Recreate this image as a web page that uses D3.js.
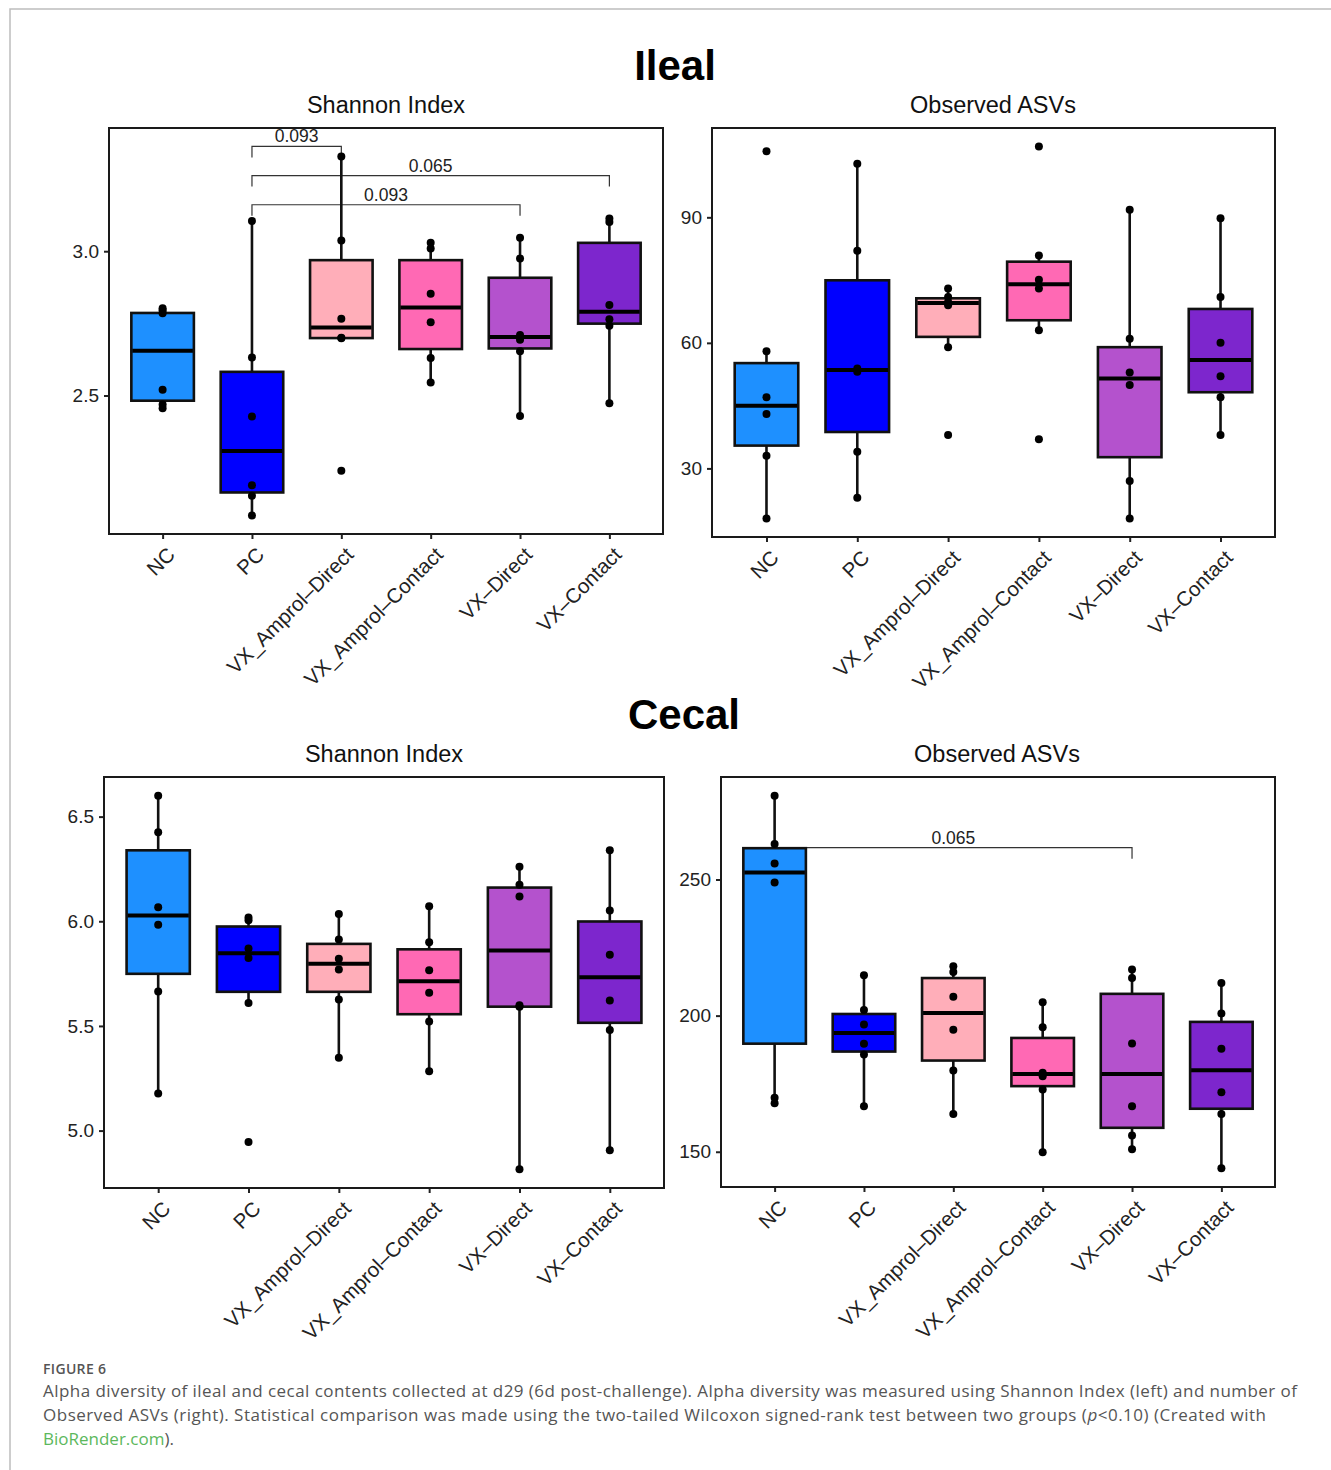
<!DOCTYPE html>
<html>
<head>
<meta charset="utf-8">
<script src="https://cdn.jsdelivr.net/npm/d3@7"></script>
<style>
  body { margin: 0; background: #fff; }
  svg { display: block; }
</style>
</head>
<body>
<div id="chart"></div>
<script>
// groups & colours
const groups = ["NC", "PC", "VX_Amprol\u2013Direct", "VX_Amprol\u2013Contact", "VX\u2013Direct", "VX\u2013Contact"];
const groupColors = ["#1E90FF", "#0000FF", "#FFAEB9", "#FF69B4", "#B452CD", "#7D26CD"];

// box stats per group: [lower whisker, q1, median, q3, upper whisker]
const ilealShannonStats = [
  [2.455, 2.482, 2.655, 2.786, 2.800],
  [2.084, 2.164, 2.308, 2.582, 3.105],
  [2.699, 2.699, 2.736, 2.969, 3.328],
  [2.545, 2.661, 2.805, 2.969, 3.029],
  [2.429, 2.663, 2.703, 2.908, 3.047],
  [2.473, 2.749, 2.790, 3.029, 3.113]
];
const ilealShannonPoints = [
  [2.802, 2.795, 2.785, 2.520, 2.469, 2.456],
  [3.105, 2.632, 2.427, 2.189, 2.153, 2.084],
  [3.328, 3.037, 2.766, 2.700, 2.698, 2.239],
  [3.029, 3.009, 2.853, 2.754, 2.630, 2.545],
  [3.047, 2.975, 2.710, 2.693, 2.653, 2.429],
  [3.113, 3.101, 2.814, 2.764, 2.742, 2.473]
];
const ilealShannonTicks = [2.5, 3.0];
const ilealShannonBrackets = [
  ["PC", "VX_Amprol\u2013Direct", 3.363, "0.093"],
  ["PC", "VX\u2013Contact", 3.262, "0.065"],
  ["PC", "VX\u2013Direct", 3.161, "0.093"]
];

const ilealAsvStats = [
  [18.05, 35.45, 44.98, 55.16, 58.0],
  [22.98, 38.7, 53.5, 74.95, 102.8],
  [58.97, 61.43, 69.54, 70.65, 72.97],
  [63.0, 65.4, 74.0, 79.4, 80.9],
  [18.05, 32.68, 51.5, 58.97, 91.8],
  [38.0, 48.2, 55.9, 68.1, 89.8]
];
const ilealAsvPoints = [
  [105.8, 58.0, 47.0, 43.0, 33.0, 18.05],
  [102.8, 82.0, 53.9, 53.1, 33.95, 22.98],
  [72.97, 70.97, 69.77, 68.98, 58.97, 38.0],
  [106.9, 80.9, 75.1, 72.97, 63.0, 36.97],
  [91.8, 60.96, 52.9, 49.9, 26.96, 18.05],
  [89.8, 70.97, 60.0, 52.0, 47.0, 38.0]
];
const ilealAsvTicks = [30, 60, 90];
const ilealAsvBrackets = [];

const cecalShannonStats = [
  [5.177, 5.749, 6.027, 6.339, 6.600],
  [5.609, 5.663, 5.847, 5.975, 6.018],
  [5.348, 5.663, 5.797, 5.892, 6.035],
  [5.283, 5.556, 5.714, 5.866, 6.072],
  [4.815, 5.592, 5.860, 6.161, 6.261],
  [4.906, 5.515, 5.733, 5.999, 6.339]
];
const cecalShannonPoints = [
  [6.600, 6.425, 6.067, 5.983, 5.665, 5.177],
  [6.018, 6.005, 5.870, 5.825, 5.609, 4.946],
  [6.035, 5.913, 5.821, 5.770, 5.626, 5.348],
  [6.072, 5.900, 5.766, 5.658, 5.521, 5.283],
  [6.261, 6.175, 6.118, 5.599, 5.592, 4.815],
  [6.339, 6.051, 5.840, 5.622, 5.480, 4.906]
];
const cecalShannonTicks = [5.0, 5.5, 6.0, 6.5];
const cecalShannonBrackets = [];

const cecalAsvStats = [
  [167.8, 189.7, 252.6, 261.5, 280.8],
  [166.7, 186.8, 193.6, 200.6, 214.8],
  [163.9, 183.5, 201.0, 213.8, 218.1],
  [149.8, 174.1, 178.6, 191.8, 204.9],
  [150.9, 158.8, 178.6, 208.0, 216.9],
  [143.9, 165.8, 179.9, 197.7, 212.0]
];
const cecalAsvPoints = [
  [280.8, 263.0, 255.9, 248.9, 169.8, 167.8],
  [214.8, 202.1, 196.7, 189.7, 185.7, 166.7],
  [218.1, 216.0, 206.9, 194.8, 179.8, 163.9],
  [204.9, 195.7, 179.0, 177.7, 172.9, 149.8],
  [216.9, 213.8, 189.8, 166.7, 156.0, 150.9],
  [212.0, 200.8, 187.8, 171.9, 163.9, 143.9]
];
const cecalAsvTicks = [150, 200, 250];
const cecalAsvBrackets = [
  ["NC", "VX\u2013Direct", 261.7, "0.065"]
];

const W = 1331, H = 1470;
const plotFont = "'Liberation Sans', Arial, sans-serif";

const svg = d3.select("#chart").append("svg")
  .attr("width", W)
  .attr("height", H)
  .style("background", "#fff");

// page border (top + left)
svg.append("path")
  .attr("d", `M10,${H} L10,9 L${W},9`)
  .attr("fill", "none")
  .attr("stroke", "#bdbdbd")
  .attr("stroke-width", 1.5);

// section titles
svg.append("text").attr("x", 675).attr("y", 80)
  .attr("text-anchor", "middle").attr("font-family", plotFont)
  .attr("font-weight", "bold").attr("font-size", 42).text("Ileal");
svg.append("text").attr("x", 684).attr("y", 729)
  .attr("text-anchor", "middle").attr("font-family", plotFont)
  .attr("font-weight", "bold").attr("font-size", 42).text("Cecal");

function drawPanel(p) {
  const x = d3.scalePoint().domain(groups).range([p.x0, p.x1]).padding(0.6);
  const allVals = p.points.flat().concat(p.brackets.map(b => b[2]));
  const lo = d3.min(allVals), hi = d3.max(allVals);
  const pad = (hi - lo) * 0.05;
  const y = d3.scaleLinear().domain([lo - pad, hi + pad]).range([p.y1, p.y0]);
  const bw = x.step() * 0.7;

  const g = svg.append("g");

  // subtitle
  g.append("text")
    .attr("x", p.titleX).attr("y", p.titleY)
    .attr("text-anchor", "middle")
    .attr("font-family", plotFont).attr("font-size", 23.5)
    .attr("fill", "#111")
    .text(p.title);

  // brackets
  const br = g.append("g");
  p.brackets.forEach(b => {
    const xa = x(b[0]), xb = x(b[1]), yy = y(b[2]);
    br.append("path")
      .attr("d", `M${xa},${yy + 11} V${yy} H${xb} V${yy + 11}`)
      .attr("fill", "none").attr("stroke", "#333").attr("stroke-width", 1.2);
    br.append("text")
      .attr("x", (xa + xb) / 2).attr("y", yy - 4)
      .attr("text-anchor", "middle")
      .attr("font-family", plotFont).attr("font-size", 17.5)
      .attr("fill", "#222")
      .text(b[3]);
  });

  // whiskers
  g.selectAll(".whisker").data(p.stats).join("line")
    .attr("x1", (d, i) => x(groups[i])).attr("x2", (d, i) => x(groups[i]))
    .attr("y1", d => y(d[0])).attr("y2", d => y(d[4]))
    .attr("stroke", "#111").attr("stroke-width", 2.6);

  // boxes
  g.selectAll(".box").data(p.stats).join("rect")
    .attr("x", (d, i) => x(groups[i]) - bw / 2)
    .attr("width", bw)
    .attr("y", d => y(d[3]))
    .attr("height", d => y(d[1]) - y(d[3]))
    .attr("fill", (d, i) => groupColors[i])
    .attr("stroke", "#111").attr("stroke-width", 2.6);

  // medians
  g.selectAll(".median").data(p.stats).join("line")
    .attr("x1", (d, i) => x(groups[i]) - bw / 2 + 1)
    .attr("x2", (d, i) => x(groups[i]) + bw / 2 - 1)
    .attr("y1", d => y(d[2])).attr("y2", d => y(d[2]))
    .attr("stroke", "#000").attr("stroke-width", 4);

  // points
  const pts = [];
  p.points.forEach((arr, i) => arr.forEach(v => pts.push({ g: groups[i], v })));
  g.selectAll(".pt").data(pts).join("circle")
    .attr("cx", d => x(d.g)).attr("cy", d => y(d.v))
    .attr("r", 4).attr("fill", "#000");

  // y axis
  const ya = g.append("g")
    .attr("transform", `translate(${p.x0},0)`)
    .call(d3.axisLeft(y).tickValues(p.ticks).tickSize(5).tickPadding(5).tickFormat(p.fmt));
  ya.select(".domain").remove();
  ya.selectAll(".tick line").attr("stroke", "#222").attr("stroke-width", 2);
  ya.selectAll(".tick text").attr("font-family", plotFont).attr("font-size", 19).attr("fill", "#222");

  // x axis
  const xa = g.append("g")
    .attr("transform", `translate(0,${p.y1})`)
    .call(d3.axisBottom(x).tickSize(5));
  xa.select(".domain").remove();
  xa.selectAll(".tick line").attr("stroke", "#222").attr("stroke-width", 2);
  xa.selectAll(".tick text")
    .attr("x", 0).attr("y", 0).attr("dy", 0)
    .attr("text-anchor", "end")
    .attr("transform", "translate(13,22) rotate(-45)")
    .attr("font-family", plotFont).attr("font-size", 20.5).attr("fill", "#222");

  // panel frame
  g.append("rect")
    .attr("x", p.x0).attr("y", p.y0)
    .attr("width", p.x1 - p.x0).attr("height", p.y1 - p.y0)
    .attr("fill", "none").attr("stroke", "#1a1a1a").attr("stroke-width", 2);
}

drawPanel({ x0: 109, x1: 663, y0: 128, y1: 534, title: "Shannon Index", titleX: 386, titleY: 113,
  stats: ilealShannonStats, points: ilealShannonPoints, ticks: ilealShannonTicks,
  brackets: ilealShannonBrackets, fmt: d3.format(".1f") });
drawPanel({ x0: 712, x1: 1275, y0: 128, y1: 537, title: "Observed ASVs", titleX: 993, titleY: 113,
  stats: ilealAsvStats, points: ilealAsvPoints, ticks: ilealAsvTicks,
  brackets: ilealAsvBrackets, fmt: d3.format("d") });
drawPanel({ x0: 104, x1: 664, y0: 777, y1: 1188, title: "Shannon Index", titleX: 384, titleY: 762,
  stats: cecalShannonStats, points: cecalShannonPoints, ticks: cecalShannonTicks,
  brackets: cecalShannonBrackets, fmt: d3.format(".1f") });
drawPanel({ x0: 721, x1: 1275, y0: 777, y1: 1187, title: "Observed ASVs", titleX: 997, titleY: 762,
  stats: cecalAsvStats, points: cecalAsvPoints, ticks: cecalAsvTicks,
  brackets: cecalAsvBrackets, fmt: d3.format("d") });

// caption
const capFont = "'Open Sans', Lato, sans-serif";
svg.append("text").attr("x", 43).attr("y", 1374)
  .attr("font-family", capFont).attr("font-size", 14).attr("font-weight", 600)
  .attr("fill", "#555").attr("textLength", 63).attr("lengthAdjust", "spacing")
  .text("FIGURE 6");

const cap1 = svg.append("text").attr("x", 43).attr("y", 1397)
  .attr("font-family", capFont).attr("font-size", 17).attr("fill", "#555")
  .attr("textLength", 1254).attr("lengthAdjust", "spacing");
cap1.text("Alpha diversity of ileal and cecal contents collected at d29 (6d post-challenge). Alpha diversity was measured using Shannon Index (left) and number of");

const cap2 = svg.append("text").attr("x", 43).attr("y", 1421)
  .attr("font-family", capFont).attr("font-size", 17).attr("fill", "#555")
  .attr("textLength", 1223).attr("lengthAdjust", "spacing");
cap2.append("tspan").text("Observed ASVs (right). Statistical comparison was made using the two-tailed Wilcoxon signed-rank test between two groups (");
cap2.append("tspan").attr("font-style", "italic").text("p");
cap2.append("tspan").text("<0.10) (Created with");

const cap3 = svg.append("text").attr("x", 43).attr("y", 1445)
  .attr("font-family", capFont).attr("font-size", 17).attr("fill", "#555");
cap3.append("tspan").attr("fill", "#5cb85c").text("BioRender.com");
cap3.append("tspan").text(").");
</script>
</body>
</html>
